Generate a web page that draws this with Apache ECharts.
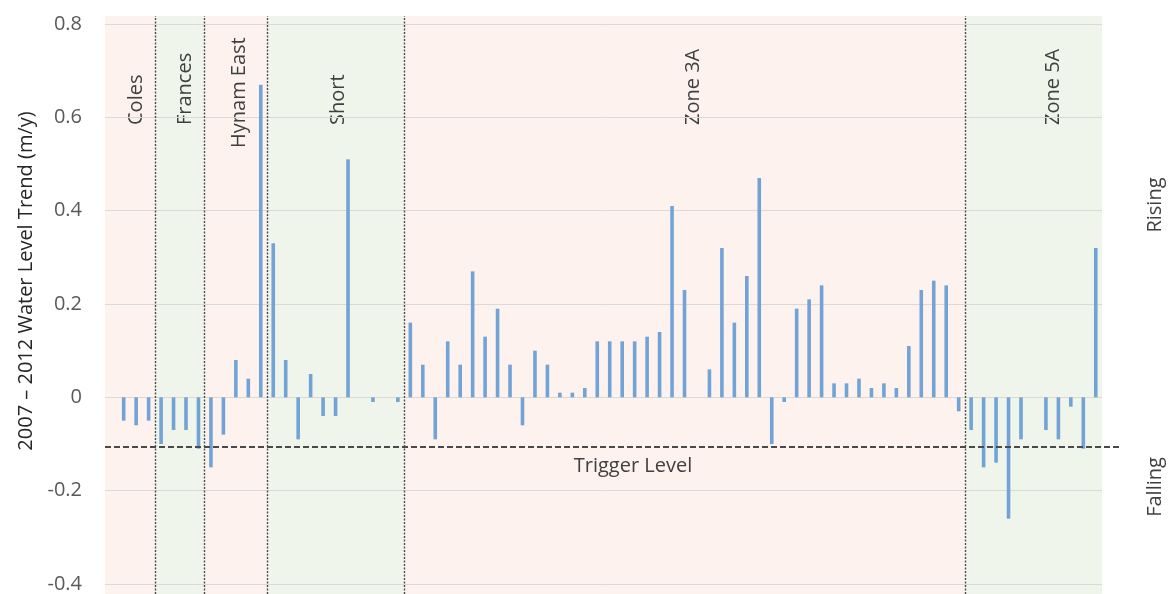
<!DOCTYPE html>
<html>
<head>
<meta charset="utf-8">
<script src="https://cdn.jsdelivr.net/npm/echarts@6/dist/echarts.min.js"></script>
<style>
  html, body { margin: 0; padding: 0; background: #fff; }
  #chart { width: 1170px; height: 594px; }
</style>
</head>
<body>
<div id="chart"></div>
<script>
// 2007-2012 water level trend per bore (m/y), null = no bar
const trendValues = [
  null, -0.05, -0.06, -0.05,
  -0.10, -0.07, -0.07, -0.11,
  -0.15, -0.08, 0.08, 0.04, 0.67,
  0.33, 0.08, -0.09, 0.05, -0.04, -0.04, 0.51, null, -0.01, null, -0.01,
  0.16, 0.07, -0.09, 0.12, 0.07, 0.27, 0.13, 0.19, 0.07, -0.06,
  0.10, 0.07, 0.01, 0.01, 0.02, 0.12, 0.12, 0.12, 0.12, 0.13,
  0.14, 0.41, 0.23, null, 0.06, 0.32, 0.16, 0.26, 0.47, -0.10,
  -0.01, 0.19, 0.21, 0.24, 0.03, 0.03, 0.04, 0.02, 0.03, 0.02,
  0.11, 0.23, 0.25, 0.24, -0.03,
  -0.07, -0.15, -0.14, -0.26, -0.09, null, -0.07, -0.09, -0.02, -0.11, 0.32
]
const categories = trendValues.map((v, i) => 'Bore ' + (i + 1))

const zoneNames = ['Coles', 'Frances', 'Hynam East', 'Short', 'Zone 3A', 'Zone 5A']
const zoneStart = [0, 4, 8, 13, 24, 69]
const zoneEnd = [4, 8, 13, 24, 69, 80]
const triggerLevel = -0.1
const yMin = -0.4
const yMax = 0.8
const yStep = 0.2

// styling
const bandColors = ['#fdf2ee', '#eff5eb']
const zoneLabelPos = [[31, 109], [30, 109], [35, 132], [71, 109], [289, 109], [88, 109]]
const textColor = '#404040'
const font = 'Open Sans'

const chart = echarts.init(document.getElementById('chart'))

const option = {
  backgroundColor: '#fff',
  animation: false,
  textStyle: { fontFamily: font },
  grid: [
    { left: 105, right: 68, top: 24, bottom: 6 },
    { left: 105, right: 68, top: 16, bottom: 0 },
    // trigger line runs a little past the plot
    { left: 105, right: 50, top: 24, bottom: 6 }
  ],
  xAxis: [
    {
      type: 'category',
      gridIndex: 0,
      data: categories,
      axisLine: { show: false },
      axisTick: { show: false },
      axisLabel: { show: false }
    },
    { type: 'value', gridIndex: 1, min: 0, max: zoneEnd[zoneEnd.length - 1], show: false },
    { type: 'value', gridIndex: 2, min: 0, max: 1, show: false }
  ],
  yAxis: [
    {
      type: 'value',
      gridIndex: 0,
      min: yMin,
      max: yMax,
      interval: yStep,
      axisLine: { show: false },
      axisTick: { show: false },
      splitLine: { lineStyle: { color: '#d9d9d9', width: 1 } },
      axisLabel: {
        fontSize: 20,
        color: '#595959',
        margin: 23,
        formatter: v => (Math.abs(v) < 1e-9 ? '0' : v.toFixed(1))
      },
      name: '2007 \u2013 2012 Water Level Trend (m/y)',
      nameLocation: 'middle',
      nameGap: 66,
      nameTextStyle: { fontSize: 20, color: '#262626', padding: [0, 0, 0, 46] }
    },
    { type: 'value', gridIndex: 1, min: 0, max: 1, show: false },
    { type: 'value', gridIndex: 2, min: yMin, max: yMax, show: false }
  ],
  graphic: [
    {
      type: 'text', x: 1155, y: 205, rotation: Math.PI / 2,
      style: { text: 'Rising', fontSize: 20, fontFamily: font, fill: textColor, align: 'center', verticalAlign: 'middle' }
    },
    {
      type: 'text', x: 1155, y: 487, rotation: Math.PI / 2,
      style: { text: 'Falling', fontSize: 20, fontFamily: font, fill: textColor, align: 'center', verticalAlign: 'middle' }
    }
  ],
  series: [
    {
      // zone bands and dividers
      type: 'scatter',
      xAxisIndex: 1,
      yAxisIndex: 1,
      data: [],
      z: -1,
      silent: true,
      markArea: {
        z: -1,
        silent: true,
        data: zoneNames.map((name, i) => [
          {
            name: name,
            xAxis: zoneStart[i],
            itemStyle: { color: bandColors[i % 2] },
            label: {
              show: true,
              position: zoneLabelPos[i],
              rotate: 90,
              align: 'left',
              verticalAlign: 'middle',
              fontSize: 20,
              fontFamily: font,
              color: textColor
            }
          },
          { xAxis: zoneEnd[i] }
        ])
      },
      markLine: {
        silent: true,
        symbol: 'none',
        label: { show: false },
        lineStyle: { color: '#4d4d4d', type: [2, 1.5], width: 1.4 },
        data: zoneStart.slice(1).map(x => ({ xAxis: x }))
      }
    },
    {
      type: 'bar',
      xAxisIndex: 0,
      yAxisIndex: 0,
      data: trendValues,
      barWidth: 3.6,
      itemStyle: { color: '#72a3d7' },
      z: 3
    },
    {
      // trigger level line
      type: 'scatter',
      xAxisIndex: 2,
      yAxisIndex: 2,
      data: [],
      z: 4,
      markLine: {
        silent: true,
        symbol: 'none',
        lineStyle: { color: '#4a4a4a', type: [6, 3], width: 2 },
        label: {
          show: true,
          position: 'insideMiddleBottom',
          formatter: 'Trigger Level',
          fontSize: 20,
          fontFamily: font,
          color: textColor,
          distance: 9,
          padding: [0, 0, 0, 41]
        },
        data: [{ yAxis: triggerLevel }]
      }
    }
  ]
}

chart.setOption(option)
</script>
</body>
</html>
